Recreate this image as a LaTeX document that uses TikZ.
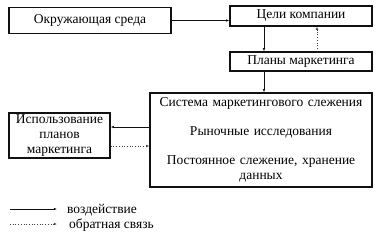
\documentclass[tikz,border=0pt]{standalone}
\usepackage{fontspec}
\setmainfont{Liberation Serif}
\usetikzlibrary{arrows.meta,positioning,calc}
\definecolor{mkink}{HTML}{111111}
\definecolor{mkshade}{HTML}{9A9A9A}
\tikzset{
  box/.style={draw=mkink, line width=1.4pt, fill=white, align=center, inner sep=1pt,
    font=\fontsize{13.5}{15}\selectfont},
  act/.style={-{Latex[length=3.2pt,width=2.6pt]}, line width=0.7pt, color=mkink},
  fbk/.style={-{Latex[length=3.2pt,width=2.6pt]}, line width=0.7pt, dotted, color=mkink!80},
  lgd/.style={font=\fontsize{13.5}{15}\selectfont, anchor=west, inner sep=0pt},
}
\begin{document}
\begin{tikzpicture}[x=1pt,y=-1pt]
  \useasboundingbox (0,0) rectangle (378,236);
  % boxes, upper row and right column
  \node[box, minimum width=162pt, minimum height=26pt] (env) at (90,20.5) {Окружающая среда};
  \node[box, minimum width=142pt, minimum height=20pt] (goals) at (301,16) {Цели компании};
  \node[box, minimum width=142pt, minimum height=19pt] (plans) at (301,61.5) {Планы маркетинга};
  \node[box, minimum width=222pt, minimum height=94pt, text width=218pt] (sys) at (261,140)
    {Система маркетингового слежения\\[14pt]Рыночные исследования\\[14pt]Постоянное слежение, хранение\\данных};
  \node[box, minimum width=101pt, minimum height=45pt, text width=97pt,
    font=\fontsize{13.5}{15}\selectfont] (use) at (59.5,135.5) {Использование\\планов\\маркетинга};
  % links
  \draw[act] (env.east) -- (env.east -| goals.west);
  \draw[act] ([xshift=-37pt]goals.south) -- ([xshift=-37pt]plans.north);
  \draw[fbk] ([xshift=16pt]plans.north) -- ([xshift=16pt]goals.south);
  \draw[act] ([xshift=-37pt]plans.south) -- ([xshift=-37pt]plans.south |- sys.north);
  \draw[act] ([yshift=13pt]sys.west) -- ([yshift=13pt]sys.west -| use.east);
  \draw[fbk] ([yshift=-10.5pt]use.east) -- ([yshift=-10.5pt]use.east -| sys.west);
  % legend
  \coordinate (la) at (10,209); \coordinate (lb) at (57,209);
  \coordinate (lc) at (10,224); \coordinate (ld) at (57,224);
  \draw[act] (la) -- (lb);
  \draw[fbk] (lc) -- (ld);
  \node[lgd] (lact) at (67,210) {воздействие};
  \node[lgd] (lfbk) at (69,225) {обратная связь};
\end{tikzpicture}
\end{document}
